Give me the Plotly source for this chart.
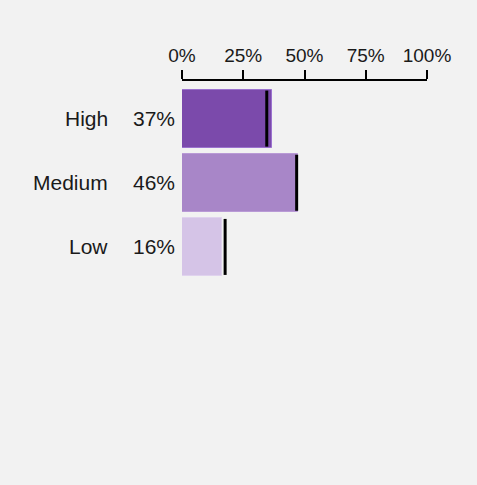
import plotly.graph_objects as go

# data
categories = ["High", "Medium", "Low"]
shares = [36.8, 47.2, 16.5]
share_labels = ["37%", "46%", "16%"]
targets = [34.6, 46.8, 17.6]
bar_colours = ["#7b4aab", "#a886c8", "#d5c4e7"]
edge_colours = ["#9b72cf", "#b99ad6", "#e0d3ee"]
tick_vals = [0, 25, 50, 75, 100]
tick_text = ["0%", "25%", "50%", "75%", "100%"]

font = dict(family="Liberation Sans, Arial, sans-serif", color="#1a1a1a")
bg = "#f2f2f2"

fig = go.Figure()

fig.add_trace(go.Bar(
    x=shares,
    y=categories,
    orientation="h",
    width=0.906,
    marker=dict(color=bar_colours, line=dict(color=edge_colours, width=1)),
    hoverinfo="skip",
    showlegend=False,
))

# black target ticks on each bar (line symbols are drawn 1.4x their size)
fig.add_trace(go.Scatter(
    x=targets,
    y=categories,
    mode="markers",
    marker=dict(symbol="line-ns", size=40,
                line=dict(color="black", width=3)),
    hoverinfo="skip",
    showlegend=False,
))

# category names and percentages to the left of the bars
for cat, lab in zip(categories, share_labels):
    fig.add_annotation(x=-0.294, y=cat, xref="paper", yref="y",
                       text=cat, showarrow=False, xanchor="right",
                       font=dict(size=21, **font))
    fig.add_annotation(x=-0.02, y=cat, xref="paper", yref="y",
                       text=lab, showarrow=False, xanchor="right",
                       font=dict(size=21, **font))

fig.update_xaxes(
    side="top",
    range=[0, 100],
    tickvals=tick_vals,
    ticktext=tick_text,
    ticks="outside",
    ticklen=9,
    tickwidth=2,
    tickcolor="black",
    showline=True,
    linewidth=2,
    linecolor="black",
    showgrid=False,
    zeroline=False,
    tickfont=dict(size=19, **font),
)
fig.update_yaxes(
    range=[2.5, -0.586],
    visible=False,
)

fig.update_layout(
    width=477,
    height=485,
    margin=dict(l=182, r=50, t=81, b=206),
    paper_bgcolor=bg,
    plot_bgcolor=bg,
    font=font,
    bargap=0,
)

fig.write_html(
    "out.html",
    config={"displayModeBar": False},
    post_script="document.body.style.margin='0';"
                "document.body.style.background='#f2f2f2';",
)
